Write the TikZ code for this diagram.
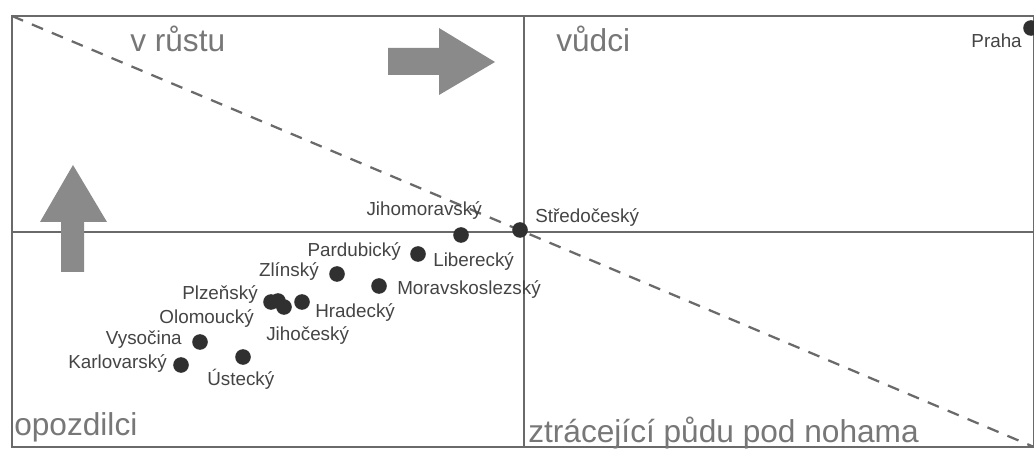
\documentclass[tikz,border=0pt]{standalone}
\usepackage{fontspec}
\setmainfont{Liberation Sans}
\usepackage{tikz}
\usetikzlibrary{arrows}
\definecolor{framegray}{HTML}{6A6A6A}
\definecolor{textgray}{HTML}{777777}
\definecolor{labelgray}{HTML}{444444}
\definecolor{dotgray}{HTML}{303030}
\definecolor{arrowgray}{HTML}{8A8A8A}
\tikzstyle{frame} = [draw=framegray, line width=1.4pt]
\tikzstyle{trend} = [draw=framegray, line width=1.6pt, dash pattern=on 0.3cm off 0.24cm]
\tikzstyle{dot} = [circle, fill=dotgray, inner sep=0pt, minimum size=0.39cm]
\tikzstyle{lbl} = [inner sep=0pt, text=labelgray, font=\fontsize{13.4}{15}\selectfont]
\tikzstyle{quad} = [inner sep=0pt, text=textgray, font=\fontsize{22.5}{26}\selectfont]
\tikzstyle{bigarrow} = [fill=arrowgray, draw=none]

\begin{document}
\begin{tikzpicture}[x=0.025cm, y=-0.025cm]
\useasboundingbox (0,0) rectangle (1034,459);
%ramecek a kvadranty
\coordinate (tl) at (12,16);
\coordinate (br) at (1034,447);
\draw [frame] (tl) rectangle (br);
\draw [frame] (524,16) -- (524,447);
\draw [frame] (12,232) -- (1034,232);
\draw [trend] (tl) -- (br);

%sipky
\fill [bigarrow] (388,48) -- (439,48) -- (439,28) -- (495,62) -- (439,95) -- (439,75) -- (388,75) -- cycle;
\fill [bigarrow] (61,272) -- (61,222) -- (40,222) -- (73,165) -- (107,222) -- (84,222) -- (84,272) -- cycle;

%nazvy kvadrantu
\node (rust) [quad, anchor=base west] at (130,52) {v růstu};
\node (vudci) [quad, anchor=base west] at (556,52) {vůdci};
\node (opozd) [quad, anchor=base west] at (14,435) {opozdilci};
\node (ztrac) [quad, anchor=base west] at (528,442) {ztrácející půdu pod nohama};

%kraje
\node (praha) [dot] at (1031,28) {};
\node (stred) [dot] at (520,230) {};
\node (jihom) [dot] at (461,235) {};
\node (parlib) [dot] at (418,254) {};
\node (zlin) [dot] at (337,274) {};
\node (morav) [dot] at (379,286) {};
\node (plzen) [dot] at (271,302) {};
\node (olom) [dot] at (278,301) {};
\node (jihoc) [dot] at (284,307) {};
\node (hrad) [dot] at (302,302) {};
\node (vysoc) [dot] at (200,342) {};
\node (ustec) [dot] at (243,357) {};
\node (karlo) [dot] at (181,365) {};

\node (lpraha) [lbl, anchor=base east] at (1022,48) {Praha};
\node (lstred) [lbl, anchor=base west] at (535,223) {Středočeský};
\node (ljihom) [lbl, anchor=base east] at (482,216) {Jihomoravský};
\node (lpard) [lbl, anchor=base east] at (401,257) {Pardubický};
\node (llib) [lbl, anchor=base west] at (433,267) {Liberecký};
\node (lzlin) [lbl, anchor=base east] at (319,276) {Zlínský};
\node (lmorav) [lbl, anchor=base west] at (397,295) {Moravskoslezský};
\node (lplzen) [lbl, anchor=base east] at (258,300) {Plzeňský};
\node (lolom) [lbl, anchor=base east] at (254,323) {Olomoucký};
\node (lhrad) [lbl, anchor=base west] at (315,317) {Hradecký};
\node (ljihoc) [lbl, anchor=base west] at (266,340) {Jihočeský};
\node (lvysoc) [lbl, anchor=base east] at (182,345) {Vysočina};
\node (lkarlo) [lbl, anchor=base east] at (167,368) {Karlovarský};
\node (lustec) [lbl, anchor=base west] at (207,385) {Ústecký};
\end{tikzpicture}
\end{document}
